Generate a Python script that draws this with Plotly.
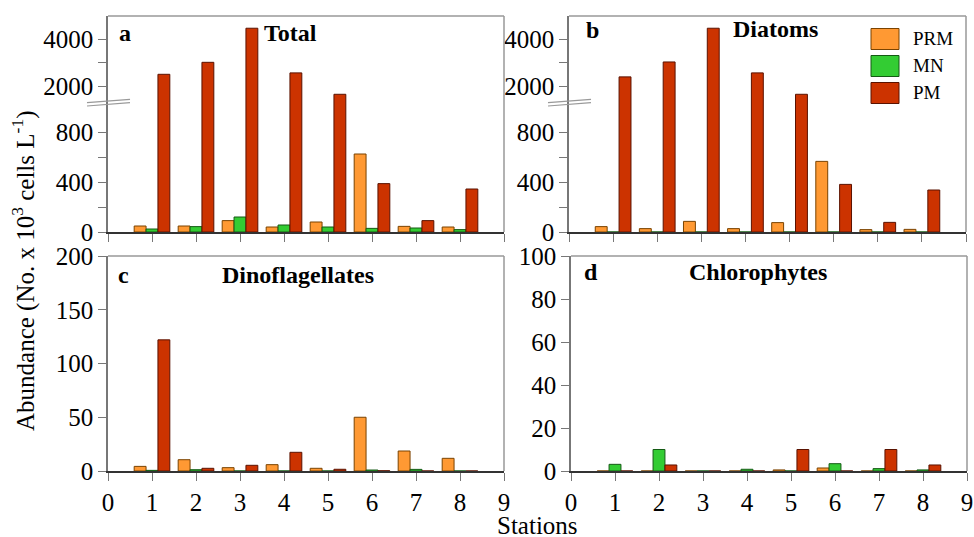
import plotly.graph_objects as go

W, H = 974, 537

stations = [1, 2, 3, 4, 5, 6, 7, 8]
series_names = ["PRM", "MN", "PM"]

total_prm = [48, 48, 91, 40, 80, 624, 45, 40]
total_mn = [24, 43, 120, 56, 40, 29, 32, 19]
total_pm = [2510, 3020, 4470, 2570, 1660, 387, 91, 344]

diatom_prm = [43, 27, 85, 27, 75, 565, 19, 21]
diatom_mn = [0, 0, 0, 0, 0, 0, 0, 0]
diatom_pm = [2400, 3035, 4470, 2570, 1660, 381, 77, 336]

dino_prm = [4.3, 10.5, 3.1, 5.9, 2.5, 50, 18.6, 11.8]
dino_mn = [0.6, 1.2, 0, 0, 0, 0.9, 1.5, 0]
dino_pm = [122, 2.5, 5.3, 17.4, 1.6, 0.2, 0, 0]

chloro_prm = [0, 0, 0, 0, 0.5, 1.4, 0, 0]
chloro_mn = [3.1, 10, 0, 0.8, 0, 3.4, 1.1, 0.5]
chloro_pm = [0, 2.8, 0, 0, 10, 0, 10, 2.8]

x_ticks = [0, 1, 2, 3, 4, 5, 6, 7, 8, 9]
lower_ticks = [0, 200, 400, 600, 800]
lower_text = ["0", " ", "400", " ", "800"]
upper_ticks = [2000, 3000, 4000]
upper_text = ["2000", " ", "4000"]
dino_ticks = [0, 50, 100, 150, 200]
chloro_ticks = [0, 20, 40, 60, 80, 100]

fills = ["#FF9933", "#33CC33", "#CC3300"]
edges = ["#7A4300", "#145A14", "#5A1200"]
offsets = [-0.405, -0.135, 0.135]
BW = 0.27

FONT = "Liberation Serif"


def fx(px):
    return px / W


def fy(py):
    return 1 - py / H


fig = go.Figure()


def add_bars(data, xa, ya):
    for i, vals in enumerate(data):
        fig.add_trace(go.Bar(
            x=stations, y=vals, width=BW, offset=offsets[i],
            marker=dict(color=fills[i], line=dict(color=edges[i], width=1)),
            name=series_names[i], showlegend=False, xaxis=xa, yaxis=ya,
        ))


add_bars([total_prm, total_mn, total_pm], "x", "y")
add_bars([total_prm, total_mn, total_pm], "x", "y2")
add_bars([diatom_prm, diatom_mn, diatom_pm], "x2", "y3")
add_bars([diatom_prm, diatom_mn, diatom_pm], "x2", "y4")
add_bars([dino_prm, dino_mn, dino_pm], "x3", "y5")
add_bars([chloro_prm, chloro_mn, chloro_pm], "x4", "y6")

tickfont = dict(family=FONT, size=25, color="black")
AXC = "#777777"

xcommon = dict(range=[0, 9], tickvals=x_ticks, ticks="outside", ticklen=8,
               tickcolor=AXC, showline=True, linecolor="#333333", linewidth=1.5,
               showgrid=False, zeroline=False, tickfont=tickfont, fixedrange=True,
               automargin=False)
ycommon = dict(ticks="outside", ticklen=8, tickcolor=AXC, showline=True,
               linecolor=AXC, linewidth=1.5, showgrid=False, zeroline=False,
               tickfont=tickfont, fixedrange=True, automargin=False)

# panel pixel boxes
A = dict(l=108, r=504, t=16, b=232, brk=108)
B = dict(l=569, r=966, t=16, b=232, brk=108)
C = dict(l=108, r=504, t=256, b=471)
D = dict(l=571, r=967, t=256, b=471)

fig.update_layout(
    width=W, height=H, autosize=False,
    margin=dict(l=0, r=0, t=0, b=0, pad=0, autoexpand=False),
    font=dict(family=FONT),
    showlegend=False,
    paper_bgcolor="white", plot_bgcolor="rgba(0,0,0,0)",
    xaxis=dict(xcommon, domain=[fx(A["l"]), fx(A["r"])], anchor="y", showticklabels=False),
    yaxis=dict(ycommon, domain=[fy(A["b"]), fy(A["brk"])], anchor="x", range=[0, 992],
               tickvals=lower_ticks, ticktext=lower_text),
    yaxis2=dict(ycommon, domain=[fy(A["brk"]), fy(A["t"])], anchor="x", range=[1077, 4990],
                tickvals=upper_ticks, ticktext=upper_text),
    xaxis2=dict(xcommon, domain=[fx(B["l"]), fx(B["r"])], anchor="y3", showticklabels=False),
    yaxis3=dict(ycommon, domain=[fy(B["b"]), fy(B["brk"])], anchor="x2", range=[0, 992],
                tickvals=lower_ticks, ticktext=lower_text),
    yaxis4=dict(ycommon, domain=[fy(B["brk"]), fy(B["t"])], anchor="x2", range=[1077, 4990],
                tickvals=upper_ticks, ticktext=upper_text),
    xaxis3=dict(xcommon, domain=[fx(C["l"]), fx(C["r"])], anchor="y5"),
    yaxis5=dict(ycommon, domain=[fy(C["b"]), fy(C["t"])], anchor="x3", range=[0, 200],
                tickvals=dino_ticks),
    xaxis4=dict(xcommon, domain=[fx(D["l"]), fx(D["r"])], anchor="y6"),
    yaxis6=dict(ycommon, domain=[fy(D["b"]), fy(D["t"])], anchor="x4", range=[0, 100],
                tickvals=chloro_ticks),
)

shapes = []
# frame top and right borders
for P in (A, B, C, D):
    shapes.append(dict(type="line", xref="paper", yref="paper",
                       x0=fx(P["l"]), x1=fx(P["r"]), y0=fy(P["t"]), y1=fy(P["t"]),
                       line=dict(color="#999999", width=1.5)))
    shapes.append(dict(type="line", xref="paper", yref="paper",
                       x0=fx(P["r"]), x1=fx(P["r"]), y0=fy(P["t"]), y1=fy(P["b"]),
                       line=dict(color="#999999", width=1.5)))
# axis break marks
for P in (A, B):
    x0, x1 = P["l"] - 21, P["l"] + 22
    shapes.append(dict(type="line", xref="paper", yref="paper",
                       x0=fx(x0), x1=fx(x1), y0=fy(102.7), y1=fy(99.3),
                       line=dict(color="#999999", width=1.2)))
    shapes.append(dict(type="line", xref="paper", yref="paper",
                       x0=fx(x0), x1=fx(x1), y0=fy(106), y1=fy(102.6),
                       line=dict(color="#999999", width=1.2)))

# manual legend
leg_y = [39, 66, 93]
for i, name in enumerate(series_names):
    shapes.append(dict(type="rect", xref="paper", yref="paper",
                       x0=fx(871), x1=fx(899), y0=fy(leg_y[i] + 10.5), y1=fy(leg_y[i] - 10.5),
                       fillcolor=fills[i], line=dict(color=edges[i], width=1)))
fig.update_layout(shapes=shapes)

ann = []
bold = dict(family=FONT, size=24, color="black")
labels = [("a", 117, 33, "left"), ("Total", 290, 33, "center"),
          ("b", 584, 30, "left"), ("Diatoms", 775, 29, "center"),
          ("c", 116, 275, "left"), ("Dinoflagellates", 298, 275, "center"),
          ("d", 582, 272, "left"), ("Chlorophytes", 758, 272, "center")]
for t, x, y, al in labels:
    ann.append(dict(text="<b>" + t + "</b>", x=fx(x), y=fy(y), xref="paper", yref="paper",
                    xanchor=al, yanchor="middle", showarrow=False, font=bold))
for i, name in enumerate(series_names):
    ann.append(dict(text=name, x=fx(911), y=fy(leg_y[i]), xref="paper", yref="paper",
                    xanchor="left", yanchor="middle", showarrow=False,
                    font=dict(family=FONT, size=19, color="black")))
ann.append(dict(text="Abundance (No. x 10<sup>3</sup> cells L<sup>-1</sup>)",
                x=fx(23), y=fy(271), xref="paper", yref="paper", textangle=-90,
                xanchor="center", yanchor="middle", showarrow=False,
                font=dict(family=FONT, size=25, color="black")))
ann.append(dict(text="Stations", x=fx(537), y=fy(525), xref="paper", yref="paper",
                xanchor="center", yanchor="middle", showarrow=False,
                font=dict(family=FONT, size=25, color="black")))
fig.update_layout(annotations=ann)

fig.write_html("out.html")
